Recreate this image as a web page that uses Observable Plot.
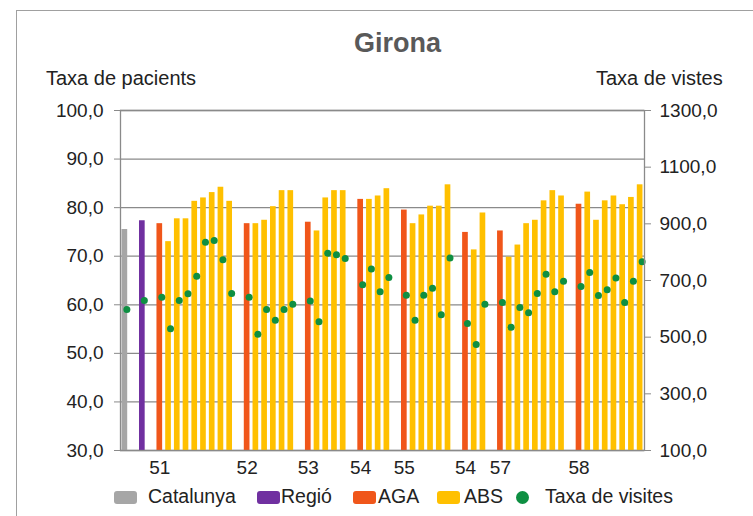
<!DOCTYPE html>
<html>
<head>
<meta charset="utf-8">
<script src="https://cdn.jsdelivr.net/npm/d3@7"></script>
<script src="https://cdn.jsdelivr.net/npm/@observablehq/plot@0.6"></script>
<style>
  html, body { margin: 0; padding: 0; background: #fff; }
  #wrap { position: relative; width: 753px; height: 516px; overflow: hidden; font-family: "Liberation Sans", Arial, sans-serif; color: #222; }
  #border { position: absolute; left: 16px; top: 10px; width: 800px; height: 600px; border: 1.5px solid #a0a0a0; box-sizing: border-box; }
  #chart { position: absolute; left: 0; top: 0; }
  .abs { position: absolute; white-space: nowrap; }
  #title { left: 0; width: 795px; top: 28px; text-align: center; font-size: 27px; font-weight: bold; color: #595959; }
  .axtitle { font-size: 20px; top: 67px; color: #222; }
  .sw { position: absolute; width: 23px; height: 13px; border-radius: 3px; top: 491px; }
  .lt { position: absolute; font-size: 19.5px; top: 485px; color: #222; }
  .ld { position: absolute; width: 13px; height: 13px; border-radius: 50%; top: 491px; }
</style>
</head>
<body>
<div id="wrap">
  <div id="border"></div>
  <div id="chart"></div>
  <div id="title" class="abs">Girona</div>
  <div class="abs axtitle" style="left:46px">Taxa de pacients</div>
  <div class="abs axtitle" style="left:596px">Taxa de vistes</div>
  <div id="legend"></div>
</div>
<script>
// ---- Data ----
const refLabels = ["Catalunya", "Regió"];
const refPacients = [75.5, 77.3];
const refVisites = [598, 629];

const agaLabels = ["51", "52", "53", "54", "55", "54", "57", "58"];
const agaPacients = [76.7, 76.7, 77.0, 81.7, 79.5, 74.9, 75.2, 80.7];
const agaVisites = [641, 641, 628, 685, 648, 548, 622, 679];

const absPacients = [
  [73.0, 77.7, 77.7, 81.3, 82.0, 83.1, 84.2, 81.3],
  [76.7, 77.4, 80.2, 83.5, 83.5],
  [75.2, 82.0, 83.5, 83.5],
  [81.7, 82.4, 83.9],
  [76.7, 78.5, 80.3, 80.3, 84.7],
  [71.3, 78.9],
  [69.8, 72.3, 76.7, 77.4, 81.4, 83.5, 82.4],
  [83.2, 77.4, 81.4, 82.4, 80.6, 82.1, 84.7]
];
const absVisites = [
  [530, 629, 653, 715, 835, 841, 773, 654],
  [510, 598, 560, 598, 616],
  [554, 796, 791, 778],
  [741, 660, 711],
  [560, 648, 673, 579, 779],
  [474, 616],
  [535, 605, 586, 654, 722, 660, 697],
  [728, 647, 667, 709, 622, 697, 766]
];

const leftTicks = [30, 40, 50, 60, 70, 80, 90, 100];
const rightTicks = [100, 300, 500, 700, 900, 1100, 1300];

const kinds = ["Catalunya", "Regió", "AGA", "ABS"];
const kindColors = ["#a6a6a6", "#7030a0", "#f0561a", "#ffc000"];
const dotColor = "#0e8f42";
const legendItems = ["Catalunya", "Regió", "AGA", "ABS", "Taxa de visites"];

// ---- Build table ----
const rows = [];
let slot = 0;
refLabels.forEach((lab, i) => {
  rows.push({slot: slot++, kind: lab, label: null, pacients: refPacients[i], visites: refVisites[i]});
  rows.push({slot: slot++, kind: "gap"});
});
rows.pop();
slot--;
agaLabels.forEach((lab, g) => {
  rows.push({slot: slot++, kind: "gap"});
  rows.push({slot: slot++, kind: "AGA", label: lab, pacients: agaPacients[g], visites: agaVisites[g]});
  absPacients[g].forEach((p, j) => {
    rows.push({slot: slot++, kind: "ABS", label: null, pacients: p, visites: absVisites[g][j]});
  });
});
const slots = rows.map(d => d.slot);
const bars = rows.filter(d => d.kind !== "gap");
const agaRows = rows.filter(d => d.kind === "AGA");
const labelBySlot = new Map(agaRows.map(d => [d.slot, d.label]));

// secondary axis mapping (visites -> pacients scale)
const vMin = rightTicks[0], vMax = rightTicks[rightTicks.length - 1];
const pMin = leftTicks[0], pMax = leftTicks[leftTicks.length - 1];
const toLeft = v => pMin + (v - vMin) / (vMax - vMin) * (pMax - pMin);
const toRight = p => vMin + (p - pMin) / (pMax - pMin) * (vMax - vMin);
const fmt = v => v.toFixed(1).replace(".", ",");

const chart = Plot.plot({
  width: 753,
  height: 480,
  marginTop: 110,
  marginBottom: 30,
  marginLeft: 120,
  marginRight: 109,
  style: {background: "transparent", fontFamily: "Liberation Sans, Arial, sans-serif", fontSize: "19px", color: "#222"},
  x: {type: "band", domain: slots, paddingInner: 0.35, paddingOuter: 0.175, axis: null, label: null},
  y: {domain: [pMin, pMax], axis: null, label: null},
  color: {domain: kinds, range: kindColors},
  marks: [
    Plot.gridY(leftTicks, {stroke: "#8a8a8a", strokeOpacity: 1, strokeWidth: 1.3}),
    Plot.barY(bars, {x: "slot", y1: () => pMin, y2: "pacients", fill: "kind"}),
    Plot.dot(bars, {x: "slot", y: d => toLeft(d.visites), r: 3.5, fill: dotColor, dx: 2}),
    Plot.frame({stroke: "#8a8a8a", strokeWidth: 1.3}),
    Plot.axisY(leftTicks, {anchor: "left", label: null, tickSize: 6, tickPadding: 11, stroke: "#8a8a8a", fill: "#222", tickFormat: fmt, fontSize: 19}),
    Plot.axisY(rightTicks.map(toLeft), {anchor: "right", label: null, tickSize: 6, tickPadding: 9, stroke: "#8a8a8a", fill: "#222", tickFormat: d => fmt(Math.round(toRight(d))), fontSize: 19}),
    Plot.axisX(agaRows.map(d => d.slot), {anchor: "bottom", label: null, tickSize: 0, tickPadding: 10, fill: "#222", tickFormat: s => labelBySlot.get(s), fontSize: 19})
  ]
});
document.getElementById("chart").appendChild(chart);

// ---- Legend ----
const legendPos = [[114, 148], [257, 281], [353, 378], [437, 464], [516, 545]];
const legend = document.getElementById("legend");
legendItems.forEach((name, i) => {
  const [sx, tx] = legendPos[i];
  const m = document.createElement("div");
  if (i < kinds.length) {
    m.className = "sw";
    m.style.background = kindColors[i];
  } else {
    m.className = "ld";
    m.style.background = dotColor;
  }
  m.style.left = sx + "px";
  legend.appendChild(m);
  const t = document.createElement("div");
  t.className = "lt";
  t.style.left = tx + "px";
  t.textContent = name;
  legend.appendChild(t);
});
</script>
</body>
</html>
